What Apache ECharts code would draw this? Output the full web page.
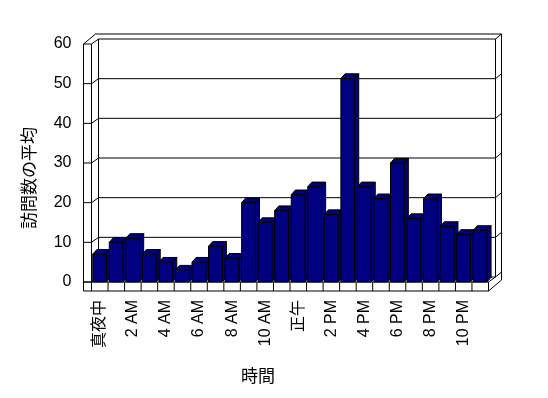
<!DOCTYPE html>
<html>
<head>
<meta charset="utf-8">
<script src="https://cdn.jsdelivr.net/npm/echarts@6/dist/echarts.min.js"></script>
<style>
  html, body { margin: 0; padding: 0; background: #fff; }
  #chart { width: 548px; height: 398px; }
</style>
</head>
<body>
<div id="chart"></div>
<script>
// 時間帯（ラベルは1つおきに表示）
const hours = [
  '真夜中', '1 AM', '2 AM', '3 AM', '4 AM', '5 AM', '6 AM', '7 AM', '8 AM', '9 AM', '10 AM', '11 AM',
  '正午', '1 PM', '2 PM', '3 PM', '4 PM', '5 PM', '6 PM', '7 PM', '8 PM', '9 PM', '10 PM', '11 PM'
]
// 訪問数の平均
const visits = [7, 10, 11, 7, 5, 3, 5, 9, 6, 20, 15, 18, 22, 24, 17, 51.3, 24, 21, 30, 16, 21, 14, 12, 13]
const yTicks = [0, 10, 20, 30, 40, 50, 60]

const FONT = '"Liberation Sans", Arial, "Noto Sans CJK JP", sans-serif'
const NAVY = '#000080'

// 奥行き（壁・床）
const WALL_D = [7, -5]
const OUTER_D = [12, -10]
const SLAB = 8
const FLOOR = 9

function line(x1, y1, x2, y2) {
  return {
    type: 'line',
    shape: { x1, y1, x2, y2 },
    style: { stroke: '#000', lineWidth: 1 },
  }
}

// 枠・壁・目盛線
function renderFrame(params, api) {
  const cw = api.size([1, 0])[0]
  const L = api.coord([0, 0])[0] - cw / 2
  const R = L + hours.length * cw
  const y0 = api.coord([0, 0])[1]
  const yTop = api.coord([0, yTicks[yTicks.length - 1]])[1]
  const children = []

  yTicks.forEach((v) => {
    const y = api.coord([0, v])[1]
    // 奥の壁の目盛線
    children.push(line(L + WALL_D[0], y + WALL_D[1], R + WALL_D[0], y + WALL_D[1]))
    // 左の壁
    children.push(line(L - SLAB, y, L, y))
    children.push(line(L, y, L + WALL_D[0], y + WALL_D[1]))
    // 右の壁
    children.push(line(R + WALL_D[0], y + WALL_D[1], R + OUTER_D[0] + 1, y + WALL_D[1] - 5))
  })

  // 左の壁の縦線
  children.push(line(L - SLAB, yTop, L - SLAB, y0 + FLOOR))
  children.push(line(L, yTop, L, y0))
  children.push(line(L + WALL_D[0], yTop + WALL_D[1], L + WALL_D[0], y0 + WALL_D[1]))
  children.push(line(L - SLAB, yTop, L - SLAB + OUTER_D[0], yTop + OUTER_D[1]))

  // 上端・右端
  children.push(line(L - SLAB + OUTER_D[0], yTop + OUTER_D[1], R + OUTER_D[0] + 1, yTop + OUTER_D[1]))
  children.push(line(R + WALL_D[0], yTop + WALL_D[1], R + WALL_D[0], y0 + WALL_D[1]))
  children.push(line(R + OUTER_D[0] + 1, yTop + OUTER_D[1], R + OUTER_D[0] + 1, y0 + FLOOR - 11))

  // 床
  children.push(line(L - SLAB, y0, R, y0))
  children.push(line(L - SLAB, y0 + FLOOR, R, y0 + FLOOR))
  for (let i = 0; i <= hours.length; i++) {
    const x = L + i * cw
    children.push(line(x, y0, x, y0 + FLOOR))
  }
  children.push(line(R, y0, R + WALL_D[0], y0 + WALL_D[1]))
  children.push(line(R, y0 + FLOOR, R + OUTER_D[0] + 1, y0 + FLOOR - 11))

  return { type: 'group', children }
}

// 3D風の棒
function renderBar(params, api) {
  const i = api.value(0)
  const v = api.value(1)
  const cw = api.size([1, 0])[0]
  const base = api.coord([i, 0])
  const top = api.coord([i, v])
  const x0 = base[0] - cw / 2 + cw * 0.075
  const x1 = x0 + cw * 0.83
  const dx = cw * 0.25
  const dy = -4.7
  const by = base[1]
  const ty = top[1]
  const style = { fill: NAVY, stroke: '#000', lineWidth: 1 }
  return {
    type: 'group',
    children: [
      { type: 'polygon', shape: { points: [[x1, ty], [x1 + dx, ty + dy], [x1 + dx, by + dy], [x1, by]] }, style },
      { type: 'polygon', shape: { points: [[x0, ty], [x0 + dx, ty + dy], [x1 + dx, ty + dy], [x1, ty]] }, style },
      { type: 'polygon', shape: { points: [[x0, ty], [x1, ty], [x1, by], [x0, by]] }, style },
    ],
  }
}

const chart = echarts.init(document.getElementById('chart'), null, { renderer: 'canvas' })

chart.setOption({
  backgroundColor: '#fff',
  animation: false,
  grid: { left: 91.5, width: 397, top: 44, bottom: 116 },
  xAxis: {
    type: 'category',
    data: hours,
    axisLine: { show: false },
    axisTick: { show: false },
    splitLine: { show: false },
    axisLabel: {
      interval: 1,
      rotate: 90,
      margin: 18,
      color: '#000',
      fontSize: 16,
      fontFamily: FONT,
    },
  },
  yAxis: {
    type: 'value',
    min: 0,
    max: 60,
    interval: 10,
    axisLine: { show: false },
    axisTick: { show: false },
    splitLine: { show: false },
    axisLabel: {
      margin: 20,
      color: '#000',
      fontSize: 16,
      fontFamily: FONT,
    },
  },
  graphic: [
    {
      type: 'text',
      x: 29,
      y: 178,
      rotation: Math.PI / 2,
      style: {
        text: '訪問数の平均',
        fill: '#000',
        font: '17px "Noto Sans CJK JP", sans-serif',
        align: 'center',
        verticalAlign: 'middle',
      },
    },
    {
      type: 'text',
      x: 258,
      y: 376,
      style: {
        text: '時間',
        fill: '#000',
        font: '17px "Noto Sans CJK JP", sans-serif',
        align: 'center',
        verticalAlign: 'middle',
      },
    },
  ],
  series: [
    {
      type: 'custom',
      name: 'frame',
      z: 1,
      renderItem: renderFrame,
      data: [[0, 0]],
      silent: true,
    },
    {
      type: 'custom',
      name: '訪問数の平均',
      z: 2,
      renderItem: renderBar,
      data: visits.map((v, i) => [i, v]),
    },
  ],
})
</script>
</body>
</html>
